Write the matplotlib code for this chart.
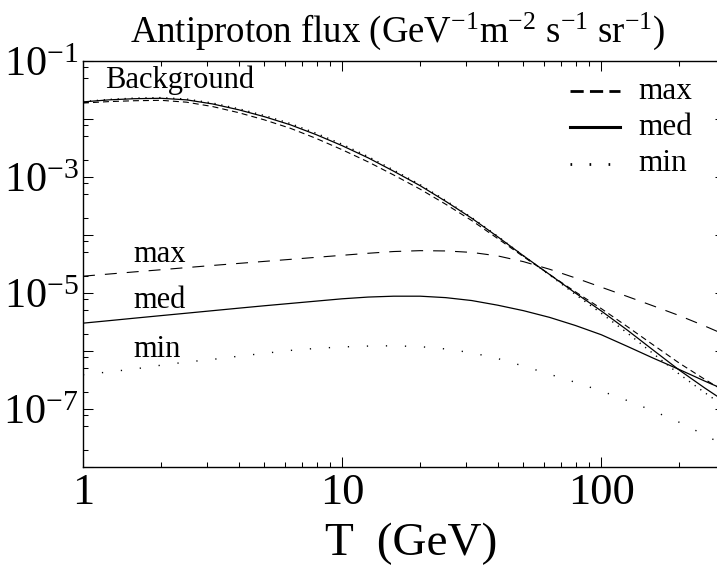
import numpy as np
import matplotlib
matplotlib.use('Agg')
import matplotlib.pyplot as plt
from matplotlib.lines import Line2D
from matplotlib.ticker import LogLocator, FuncFormatter

plt.rcParams['font.family'] = ['Liberation Serif', 'DejaVu Serif']
plt.rcParams['mathtext.fontset'] = 'custom'
plt.rcParams['mathtext.rm'] = 'Liberation Serif'
plt.rcParams['mathtext.it'] = 'Liberation Serif:italic'
plt.rcParams['mathtext.bf'] = 'Liberation Serif:bold'
plt.rcParams['lines.scale_dashes'] = False

# Kinetic energy T (GeV)
T = [1, 1.26, 1.58, 2, 2.51, 3.16, 3.98, 5.01, 6.31, 7.94, 10, 12.6, 15.8, 20,
     25.1, 31.6, 39.8, 50.1, 63.1, 79.4, 100, 126, 158, 200, 251, 300]

# log10 of antiproton flux (GeV^-1 m^-2 s^-1 sr^-1)
bg_max = [-1.725, -1.70, -1.685, -1.678, -1.71, -1.785, -1.89, -2.015, -2.16, -2.335,
          -2.53, -2.74, -2.965, -3.21, -3.47, -3.75, -4.06, -4.375, -4.68, -4.98,
          -5.27, -5.58, -5.89, -6.21, -6.49, -6.70]
bg_med = [-1.705, -1.67, -1.65, -1.643, -1.67, -1.74, -1.84, -1.96, -2.10, -2.27,
          -2.46, -2.67, -2.90, -3.15, -3.42, -3.71, -4.03, -4.36, -4.68, -5.00,
          -5.31, -5.64, -5.98, -6.33, -6.64, -6.87]
bg_min = [-1.70, -1.662, -1.64, -1.631, -1.656, -1.724, -1.822, -1.94, -2.078, -2.246,
          -2.435, -2.648, -2.88, -3.132, -3.405, -3.698, -4.02, -4.36, -4.69, -5.025,
          -5.35, -5.69, -6.04, -6.40, -6.72, -6.96]
sig_max = [-4.71, -4.673, -4.636, -4.599, -4.562, -4.525, -4.49, -4.455, -4.42, -4.385,
           -4.35, -4.315, -4.285, -4.27, -4.275, -4.30, -4.36, -4.46, -4.59, -4.74,
           -4.90, -5.06, -5.22, -5.39, -5.57, -5.72]
sig_med = [-5.52, -5.477, -5.434, -5.39, -5.348, -5.305, -5.262, -5.22, -5.18, -5.14,
           -5.10, -5.07, -5.055, -5.055, -5.08, -5.13, -5.21, -5.305, -5.42, -5.56,
           -5.72, -5.92, -6.12, -6.32, -6.52, -6.67]
sig_min = [-6.41, -6.36, -6.31, -6.245, -6.19, -6.145, -6.09, -6.04, -5.99, -5.955,
           -5.93, -5.915, -5.91, -5.925, -5.965, -6.03, -6.13, -6.26, -6.40, -6.54,
           -6.69, -6.855, -7.03, -7.23, -7.45, -7.63]

legend_labels = ['max', 'med', 'min']
curve_labels = ['max', 'med', 'min']

W, H = 717, 565
fig = plt.figure(figsize=(W / 100, H / 100), dpi=100)
ax = fig.add_axes([83 / W, (H - 467) / H, (725 - 83) / W, (467 - 61) / H])
ax.set_xscale('log')
ax.set_yscale('log')

p = lambda a: np.power(10.0, np.asarray(a))
dash_bg = (0, (4.3, 2.9))
dash_sig = (0, (8.6, 7.2))
dot_bg = (0, (0.9, 4.1))
dot_sig = (0, (0.9, 12.8))

ax.plot(T, p(bg_max), color='black', lw=0.8, ls=dash_bg)
ax.plot(T, p(bg_med), color='black', lw=0.9)
ax.plot(T, p(bg_min), color='black', lw=1.0, ls=dot_bg)
ax.plot(T, p(sig_max), color='black', lw=0.8, ls=dash_sig)
ax.plot(T, p(sig_med), color='black', lw=0.9)
ax.plot(T, p(sig_min), color='black', lw=1.0, ls=dot_sig)

ax.set_xlim(1, 300)
ax.set_ylim(1e-8, 1e-1)

ax.xaxis.set_major_locator(LogLocator(base=10, numticks=20))
ax.xaxis.set_minor_locator(LogLocator(base=10, subs=np.arange(2, 10), numticks=40))
ax.yaxis.set_major_locator(LogLocator(base=10, numticks=30))
ax.yaxis.set_minor_locator(LogLocator(base=10, subs=(2, 5, 8), numticks=60))


def yfmt(v, pos):
    e = int(round(np.log10(v)))
    return r'$\mathdefault{10^{%d}}$' % e if e % 2 != 0 else ''


def xfmt(v, pos):
    return '%d' % round(v)


ax.yaxis.set_major_formatter(FuncFormatter(yfmt))
ax.xaxis.set_major_formatter(FuncFormatter(xfmt))
ax.tick_params(which='both', direction='in', top=True, right=True, width=0.75, pad=4)
ax.tick_params(axis='x', labelsize=32)
ax.tick_params(axis='y', labelsize=30.5, pad=3)
ax.tick_params(which='major', length=7.2)
ax.tick_params(which='minor', length=3.6)
for s in ax.spines.values():
    s.set_linewidth(1.0)

fig.text(398 / W, 1 - 42 / H,
         r'Antiproton flux (GeV$^{-1}$m$^{-2}$ s$^{-1}$ sr$^{-1}$)',
         ha='center', va='baseline', fontsize=26.5)
fig.text(411 / W, 1 - 555 / H, 'T  (GeV)', ha='center', va='baseline', fontsize=34)

fig.text(105 / W, 1 - 88 / H, 'Background', fontsize=22, va='baseline')
for lab, yb in zip(curve_labels, [262, 308, 357]):
    fig.text(133 / W, 1 - yb / H, lab, fontsize=22, va='baseline')

leg_styles = [dict(ls=(0, (9.5, 4.5)), lw=2.0), dict(ls='-', lw=2.2),
              dict(ls=(0, (1.2, 12.5)), lw=2.0)]
for lab, st, yl, yb in zip(legend_labels, leg_styles, [91, 127, 164], [99, 135, 171]):
    fig.add_artist(Line2D([570 / W, 620 / W], [1 - yl / H] * 2, color='black', **st))
    fig.text(638 / W, 1 - yb / H, lab, fontsize=22.5, va='baseline')

fig.savefig('out.png', dpi=100)
